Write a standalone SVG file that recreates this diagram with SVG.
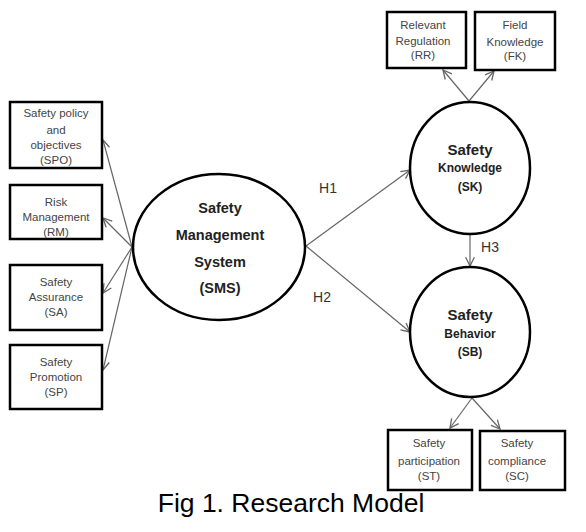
<svg xmlns="http://www.w3.org/2000/svg" width="586" height="532" viewBox="0 0 586 532">
<defs>
<marker id="arr" markerUnits="userSpaceOnUse" markerWidth="12" markerHeight="12" refX="8" refY="4" orient="auto" viewBox="-1 -1 11 10">
<path d="M0,0 L8,4 L0,8" fill="none" stroke="#666" stroke-width="1.2"/>
</marker>
<style>
.box{fill:#fff;stroke:#000;stroke-width:2.5}
.lat{fill:#fff;stroke:#000;stroke-width:2.5}
.bt{font-family:"Liberation Sans",Arial,sans-serif;font-size:11.5px;fill:#444;text-anchor:middle}
.ct{font-family:"Liberation Sans",Arial,sans-serif;font-weight:bold;fill:#222;text-anchor:middle}
.lbl{font-family:"Liberation Sans",Arial,sans-serif;font-size:14px;fill:#333;text-anchor:middle}
.con{stroke:#666;stroke-width:1.2;fill:none;marker-end:url(#arr)}
</style>
</defs>
<rect width="586" height="532" fill="#fff"/>
<g id="connectors">
<line class="con" x1="132" y1="247" x2="103" y2="140"/>
<line class="con" x1="132" y1="247" x2="103" y2="218"/>
<line class="con" x1="132" y1="247" x2="103" y2="293"/>
<line class="con" x1="132" y1="247" x2="103" y2="370"/>
<line class="con" x1="306" y1="246" x2="410" y2="170"/>
<line class="con" x1="306" y1="246" x2="410" y2="332"/>
<line class="con" x1="469" y1="101" x2="443" y2="70"/>
<line class="con" x1="469" y1="101" x2="494" y2="71"/>
<line class="con" x1="470" y1="233" x2="470" y2="266"/>
<line class="con" x1="472" y1="398" x2="450" y2="428"/>
<line class="con" x1="472" y1="398" x2="500" y2="429"/>
<text class="lbl" x="328" y="193">H1</text>
<text class="lbl" x="322" y="302">H2</text>
<text class="lbl" x="490" y="252">H3</text>
</g>
<g id="SPO">
<rect class="box" x="10" y="102" width="92" height="66"/>
<text class="bt" x="56" y="117">Safety policy</text>
<text class="bt" x="56" y="134">and</text>
<text class="bt" x="56" y="149">objectives</text>
<text class="bt" x="56" y="164">(SPO)</text>
</g>
<g id="RM">
<rect class="box" x="10" y="185" width="92" height="54"/>
<text class="bt" x="56" y="206">Risk</text>
<text class="bt" x="56" y="221">Management</text>
<text class="bt" x="56" y="236">(RM)</text>
</g>
<g id="SA">
<rect class="box" x="10" y="265" width="92" height="65"/>
<text class="bt" x="56" y="286">Safety</text>
<text class="bt" x="56" y="301">Assurance</text>
<text class="bt" x="56" y="316">(SA)</text>
</g>
<g id="SP">
<rect class="box" x="10" y="345" width="92" height="64"/>
<text class="bt" x="56" y="366">Safety</text>
<text class="bt" x="56" y="381">Promotion</text>
<text class="bt" x="56" y="396">(SP)</text>
</g>
<g id="SMS">
<ellipse class="lat" cx="219" cy="247" rx="86" ry="73"/>
<text class="ct" x="220" y="213" font-size="14.5">Safety</text>
<text class="ct" x="220" y="240" font-size="14.5">Management</text>
<text class="ct" x="220" y="267" font-size="14.5">System</text>
<text class="ct" x="220" y="293" font-size="14.5">(SMS)</text>
</g>
<g id="SK">
<ellipse class="lat" cx="470" cy="168" rx="60" ry="66"/>
<text class="ct" x="470" y="155" font-size="15">Safety</text>
<text class="ct" x="470" y="172" font-size="12">Knowledge</text>
<text class="ct" x="470" y="191" font-size="12">(SK)</text>
</g>
<g id="SB">
<ellipse class="lat" cx="470" cy="332" rx="60" ry="65"/>
<text class="ct" x="470" y="320" font-size="15">Safety</text>
<text class="ct" x="470" y="338" font-size="12">Behavior</text>
<text class="ct" x="470" y="356" font-size="12">(SB)</text>
</g>
<g id="RR">
<rect class="box" x="387" y="12" width="79" height="56"/>
<text class="bt" x="423" y="29">Relevant</text>
<text class="bt" x="423" y="45">Regulation</text>
<text class="bt" x="423" y="59">(RR)</text>
</g>
<g id="FK">
<rect class="box" x="475" y="12" width="80" height="58"/>
<text class="bt" x="515" y="29">Field</text>
<text class="bt" x="515" y="46">Knowledge</text>
<text class="bt" x="515" y="60">(FK)</text>
</g>
<g id="ST">
<rect class="box" x="388" y="430" width="84" height="60"/>
<text class="bt" x="429" y="447">Safety</text>
<text class="bt" x="429" y="465">participation</text>
<text class="bt" x="429" y="480">(ST)</text>
</g>
<g id="SC">
<rect class="box" x="480" y="431" width="85" height="59"/>
<text class="bt" x="517" y="447">Safety</text>
<text class="bt" x="517" y="465">compliance</text>
<text class="bt" x="517" y="480">(SC)</text>
</g>
<text x="291" y="512" font-family="Liberation Sans,Arial,sans-serif" font-size="26.5" fill="#000" text-anchor="middle">Fig 1. Research Model</text>
</svg>
